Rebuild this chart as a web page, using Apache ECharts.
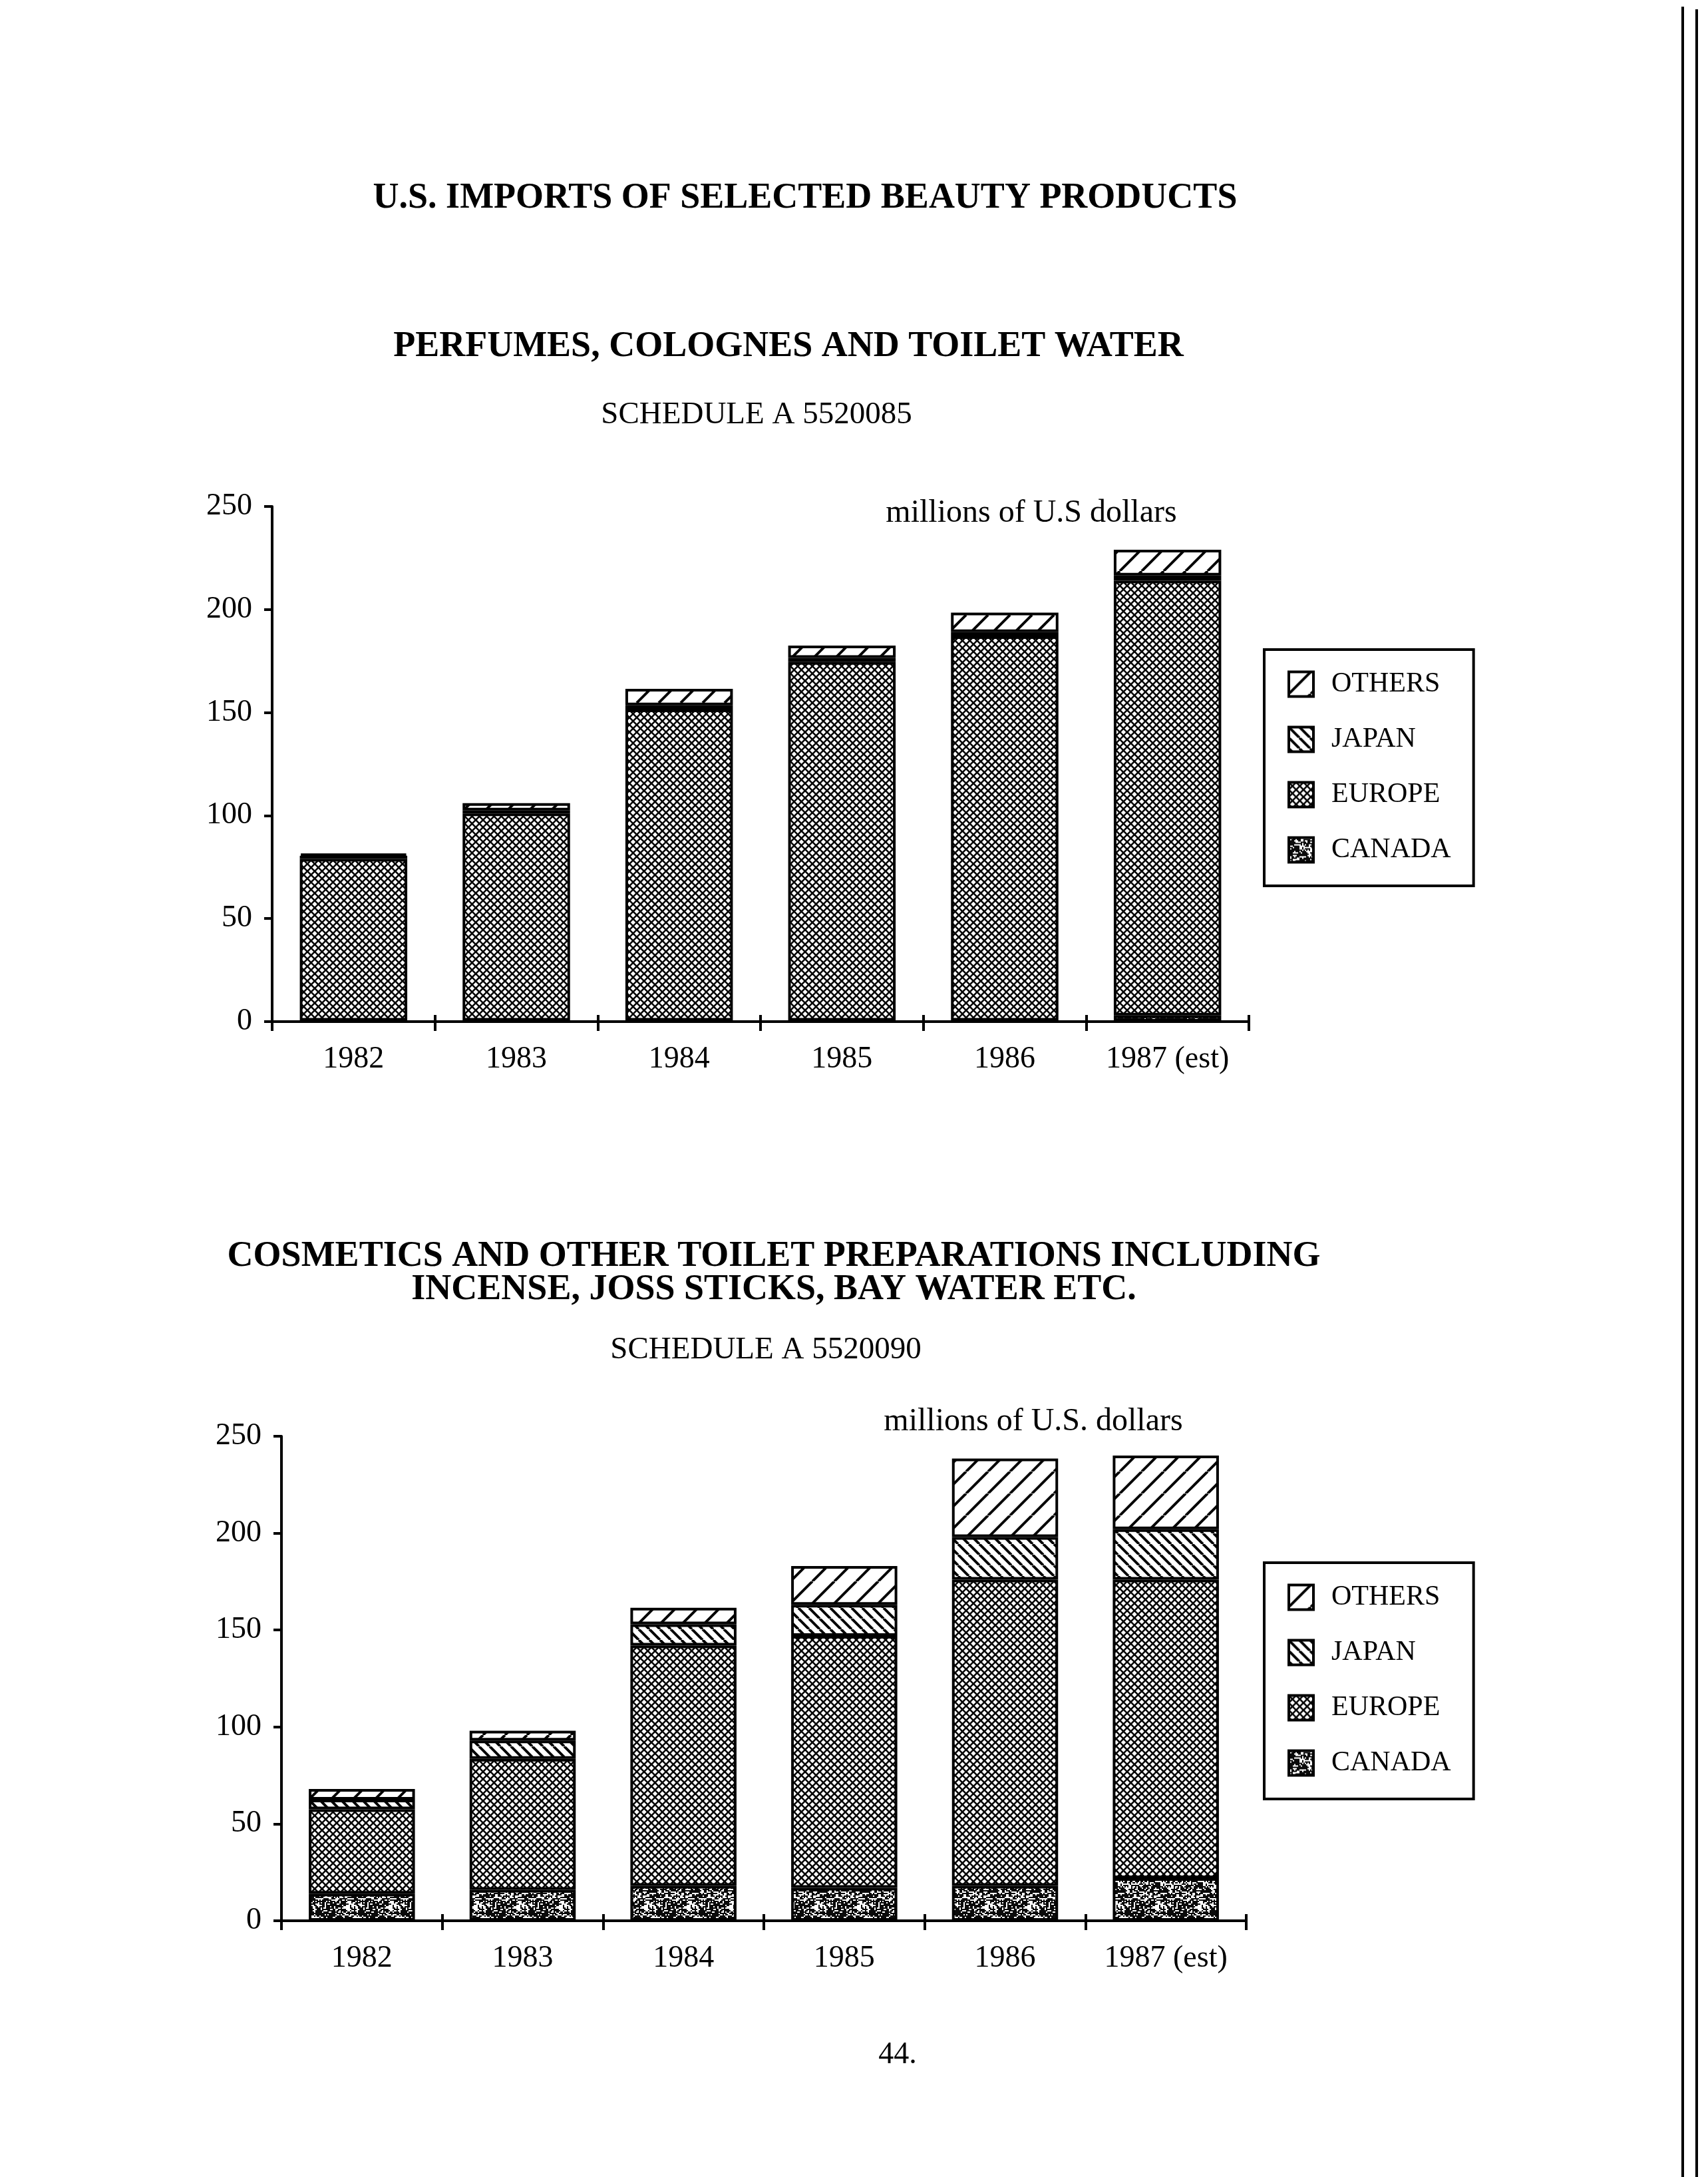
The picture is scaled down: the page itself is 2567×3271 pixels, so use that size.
<!DOCTYPE html>
<html>
<head>
<meta charset="utf-8">
<script src="https://cdn.jsdelivr.net/npm/echarts@6/dist/echarts.min.js"></script>
<style>
html,body{margin:0;padding:0;background:#fff;}
#chart{width:2567px;height:3271px;}
</style>
</head>
<body>
<div id="chart"></div>
<script>
// ---- data ----
const categories = ['1982', '1983', '1984', '1985', '1986', '1987 (est)'];
const yTicks = [0, 50, 100, 150, 200, 250];
// Perfumes, colognes and toilet water (millions of U.S. dollars)
const perfCanada = [0.5, 0.5, 0.5, 0.5, 0.5, 3];
const perfEurope = [78.5, 100.5, 151, 174, 186.5, 211];
const perfJapan  = [1.5, 1.5, 2, 2, 2, 2.5];
const perfOthers = [1, 3.5, 8, 6, 9.5, 12.5];
// Cosmetics and other toilet preparations (millions of U.S. dollars)
const cosCanada = [14, 16, 18, 17, 18, 22];
const cosEurope = [43.5, 67.5, 124, 130, 158, 154];
const cosJapan  = [5, 9.5, 11, 16, 22, 26];
const cosOthers = [5.5, 5, 8.5, 20, 40.5, 38];
const legendNames = ['OTHERS', 'JAPAN', 'EUROPE', 'CANADA'];

// ---- fill patterns ----
function hatch(size, lw, dirs) {
  const c = document.createElement('canvas');
  c.width = size; c.height = size;
  const g = c.getContext('2d');
  g.fillStyle = '#fff'; g.fillRect(0, 0, size, size);
  g.strokeStyle = '#000'; g.lineWidth = lw;
  dirs.forEach(function (d) {
    [-size, 0, size].forEach(function (o) {
      g.beginPath();
      if (d > 0) { g.moveTo(o, size); g.lineTo(o + size, 0); }
      else { g.moveTo(o, 0); g.lineTo(o + size, size); }
      g.stroke();
    });
  });
  return c;
}
function speckle(size) {
  const c = document.createElement('canvas');
  c.width = size; c.height = size;
  const g = c.getContext('2d');
  g.fillStyle = '#0a0a0a'; g.fillRect(0, 0, size, size);
  g.fillStyle = '#fff';
  let h = 12345;
  for (let y = 0; y < size; y += 2) {
    for (let x = 0; x < size; x += 2) {
      h = (h * 1103515245 + 12345) & 0x7fffffff;
      if ((h >> 16) % 100 < 30) g.fillRect(x, y, 2 + ((h >> 8) & 1) * 2, 2);
    }
  }
  return c;
}
const pat = {
  OTHERS: { image: hatch(33, 4, [1]), repeat: 'repeat' },
  JAPAN: { image: hatch(16, 4, [-1]), repeat: 'repeat' },
  EUROPE: { image: hatch(11, 2.6, [1, -1]), repeat: 'repeat' },
  CANADA: { image: speckle(64), repeat: 'repeat' }
};

function mkSeries(name, data, xi, yi) {
  return {
    name: name, type: 'bar', stack: 'g' + yi, data: data,
    xAxisIndex: xi, yAxisIndex: yi, barWidth: '66%',
    itemStyle: { color: pat[name], borderColor: '#000', borderWidth: 4 },
    emphasis: { disabled: true }, animation: false
  };
}

const serif = 'Liberation Serif';
const tickFont = { color: '#000', fontFamily: serif, fontSize: 46 };

function xAxes(gi) {
  return [
    { type: 'category', gridIndex: gi, data: categories,
      axisLine: { lineStyle: { color: '#000', width: 4 } },
      axisTick: { show: true, length: 14, lineStyle: { color: '#000', width: 4 } },
      axisLabel: Object.assign({ margin: 34 }, tickFont), splitLine: { show: false } },
    { type: 'category', gridIndex: gi, data: categories, position: 'bottom',
      axisLine: { show: false },
      axisTick: { show: true, inside: true, length: 10, lineStyle: { color: '#000', width: 4 } },
      axisLabel: { show: false }, splitLine: { show: false } }
  ];
}
function yAxis(gi) {
  return { type: 'value', gridIndex: gi, min: yTicks[0], max: yTicks[yTicks.length - 1], interval: 50,
    axisLine: { show: true, lineStyle: { color: '#000', width: 4 } },
    axisTick: { show: true, length: 12, lineStyle: { color: '#000', width: 4 } },
    axisLabel: Object.assign({ margin: 30 }, tickFont), splitLine: { show: false } };
}

function legend(top) {
  return {
    orient: 'vertical', left: 1900, top: top, data: legendNames,
    icon: 'rect',
    itemWidth: 37, itemHeight: 37, itemGap: 41,
    padding: [31, 34, 33, 35],
    borderColor: '#000', borderWidth: 4, backgroundColor: '#fff',
    itemStyle: { borderColor: '#000', borderWidth: 4 },
    textStyle: { color: '#000', fontFamily: serif, fontSize: 42, padding: [0, 0, 0, 22] },
    selectedMode: false
  };
}

function txt(s, x, y, size, bold) {
  return { type: 'text', x: x, y: y, silent: true,
    style: { text: s, fill: '#000', font: (bold ? 'bold ' : '') + size + 'px "Liberation Serif"',
      textAlign: 'center', textVerticalAlign: 'middle' } };
}

const chart = echarts.init(document.getElementById('chart'), null, { renderer: 'canvas' });
chart.setOption({
  backgroundColor: '#fff',
  animation: false,
  grid: [
    { left: 409, top: 761, right: 690, bottom: 1736 },
    { left: 423, top: 2158, right: 694, bottom: 385 }
  ],
  xAxis: xAxes(0).concat(xAxes(1)),
  yAxis: [yAxis(0), yAxis(1)],
  legend: [legend(976), legend(2348)],
  series: [
    mkSeries('CANADA', perfCanada, 0, 0),
    mkSeries('EUROPE', perfEurope, 0, 0),
    mkSeries('JAPAN', perfJapan, 0, 0),
    mkSeries('OTHERS', perfOthers, 0, 0),
    mkSeries('CANADA', cosCanada, 2, 1),
    mkSeries('EUROPE', cosEurope, 2, 1),
    mkSeries('JAPAN', cosJapan, 2, 1),
    mkSeries('OTHERS', cosOthers, 2, 1)
  ],
  graphic: [
    txt('U.S. IMPORTS OF SELECTED BEAUTY PRODUCTS', 1210, 298, 54, true),
    txt('PERFUMES, COLOGNES AND TOILET WATER', 1185, 521, 54, true),
    txt('SCHEDULE A 5520085', 1137, 624, 47, false),
    txt('millions of U.S dollars', 1550, 771, 48, false),
    txt('COSMETICS AND OTHER TOILET PREPARATIONS INCLUDING', 1163, 1888, 54, true),
    txt('INCENSE, JOSS STICKS, BAY WATER ETC.', 1163, 1938, 54, true),
    txt('SCHEDULE A 5520090', 1151, 2029, 47, false),
    txt('millions of U.S. dollars', 1553, 2136, 48, false),
    txt('44.', 1349, 3088, 46, false),
    { type: 'line', silent: true, shape: { x1: 2529, y1: 10, x2: 2529, y2: 3271 }, style: { stroke: '#000', lineWidth: 4 } },
    { type: 'line', silent: true, shape: { x1: 2550, y1: 14, x2: 2550, y2: 3271 }, style: { stroke: '#000', lineWidth: 4 } }
  ]
});
</script>
</body>
</html>
